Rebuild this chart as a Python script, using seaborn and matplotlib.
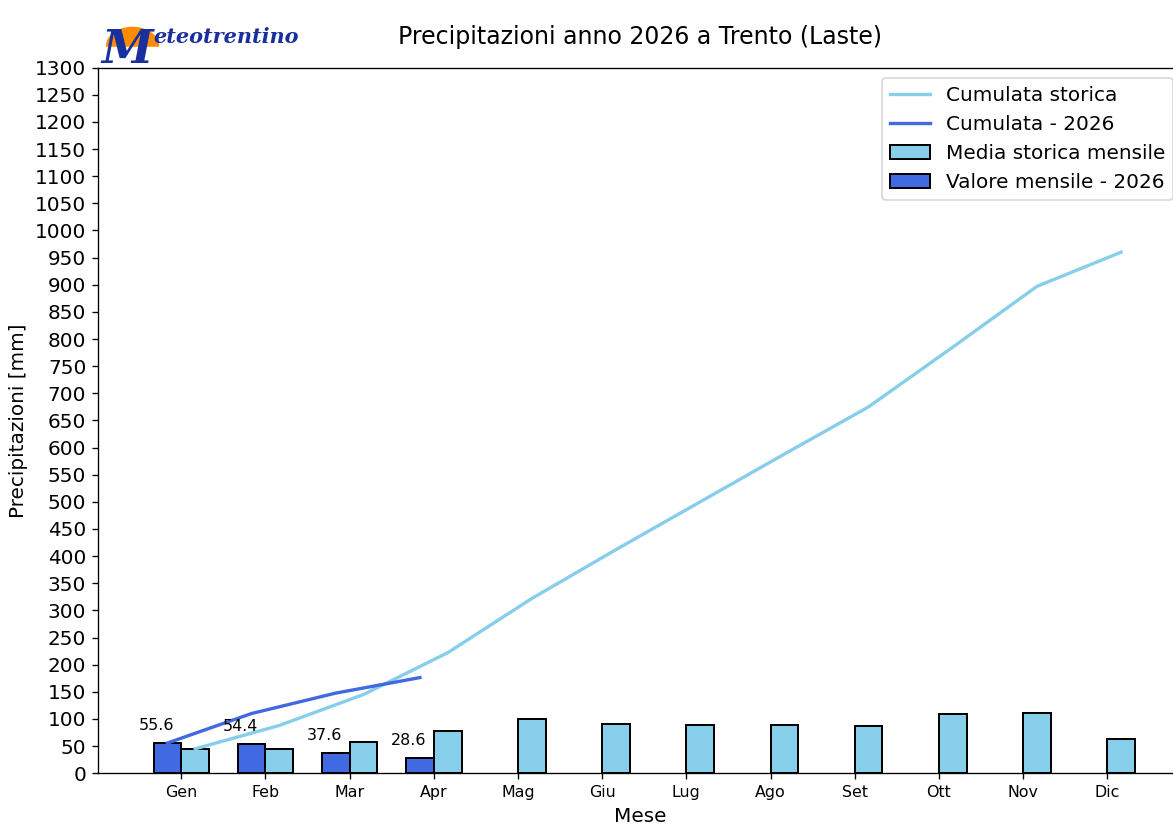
import numpy as np
import pandas as pd
import matplotlib
matplotlib.use('Agg')
import matplotlib.pyplot as plt
import seaborn as sns
from matplotlib.patches import Patch, Wedge
from matplotlib.lines import Line2D

mesi = ['Gen', 'Feb', 'Mar', 'Apr', 'Mag', 'Giu', 'Lug', 'Ago', 'Set', 'Ott', 'Nov', 'Dic']
media_storica = [45, 44, 57, 77, 100, 91, 89, 88, 87, 110, 111, 63]
cumulata_storica = [45, 88, 145, 222, 322, 412, 500, 588, 675, 785, 897, 960]
valori_2026 = [55.6, 54.4, 37.6, 28.6]
cumulata_2026 = [55.6, 110.0, 147.6, 176.2]

w = 0.33
pos = np.arange(len(mesi))
pos26 = np.arange(len(valori_2026))

df_st = pd.DataFrame({'x': pos + w / 2, 'media': media_storica, 'cum': cumulata_storica})
df_26 = pd.DataFrame({'x': pos26 - w / 2, 'val': valori_2026, 'cum': cumulata_2026})

fig, ax = plt.subplots(figsize=(1173 / 120, 835 / 120), dpi=120)
# the right edge of the axes is cut off in the reference
fig.subplots_adjust(left=0.0835, right=1.0085, top=0.919, bottom=0.074)

ax.bar(df_st['x'], df_st['media'], width=w, color='skyblue', edgecolor='black', linewidth=1.2, zorder=2)
ax.bar(df_26['x'], df_26['val'], width=w, color='royalblue', edgecolor='black', linewidth=1.2, zorder=2)
sns.lineplot(data=df_st, x='x', y='cum', color='skyblue', linewidth=2, ax=ax, zorder=3)
sns.lineplot(data=df_26, x='x', y='cum', color='royalblue', linewidth=2, ax=ax, zorder=3)

for x, v in zip(df_26['x'], valori_2026):
    ax.text(x - 0.13, v + 18, f'{v}', ha='center', va='bottom', fontsize=9.5)

ax.set_xticks(pos)
ax.set_xticklabels(mesi, fontsize=9.5)
ax.set_yticks(np.arange(0, 1301, 50))
ax.tick_params(axis='y', labelsize=12)
ax.set_xlim(-0.99, 11.9)
ax.set_ylim(0, 1300)
ax.set_xlabel('Mese', fontsize=12)
ax.set_ylabel('Precipitazioni [mm]', fontsize=12)
ax.set_title('Precipitazioni anno 2026 a Trento (Laste)', fontsize=14.2, pad=14)

handles = [
    Line2D([], [], color='skyblue', linewidth=2),
    Line2D([], [], color='royalblue', linewidth=2),
    Patch(facecolor='skyblue', edgecolor='black', linewidth=1.2),
    Patch(facecolor='royalblue', edgecolor='black', linewidth=1.2),
]
labels = ['Cumulata storica', 'Cumulata - 2026', 'Media storica mensile', 'Valore mensile - 2026']
ax.legend(handles, labels, loc='upper right', fontsize=12)

# logo meteotrentino
fig.patches.append(Wedge((0.113, 0.945), 0.022, 0, 180, transform=fig.transFigure,
                         color='darkorange', zorder=0))
fig.text(0.086, 0.925, 'M', fontsize=28, color='#1a2f9e', style='italic', weight='bold',
         family='DejaVu Serif')
fig.text(0.131, 0.948, 'eteotrentino', fontsize=12.5, color='#1a2f9e', style='italic',
         weight='bold', family='DejaVu Serif')

fig.savefig('out.png', dpi=120)
